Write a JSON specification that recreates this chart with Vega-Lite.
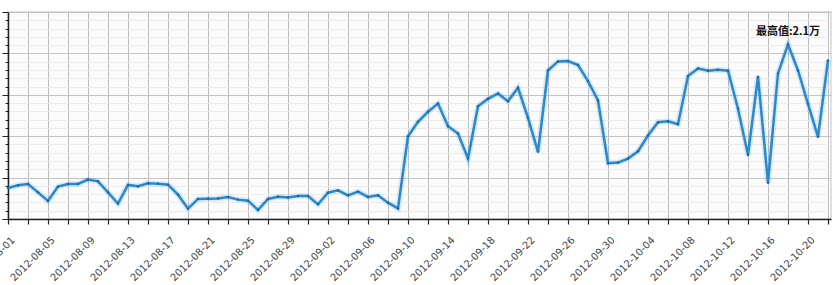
{
  "$schema": "https://vega.github.io/schema/vega-lite/v6.json",
  "autosize": {"type": "none"},
  "padding": {"left": 8, "top": 12, "right": 2, "bottom": 66},
  "width": 823,
  "height": 207,
  "background": "#ffffff",
  "config": {
    "view": {"stroke": "#d8d8d8", "strokeWidth": 1.5, "fill": "#fcfcfc"},
    "axis": {"labelFont": "DejaVu Sans", "labelFontSize": 10, "labelColor": "#444"}
  },
  "data": {
    "values": [
      {"date": "2012-08-01", "v": 3750}, {"date": "2012-08-02", "v": 4070}, {"date": "2012-08-03", "v": 4230},
      {"date": "2012-08-04", "v": 3220}, {"date": "2012-08-05", "v": 2180}, {"date": "2012-08-06", "v": 3910},
      {"date": "2012-08-07", "v": 4230}, {"date": "2012-08-08", "v": 4230}, {"date": "2012-08-09", "v": 4760},
      {"date": "2012-08-10", "v": 4550}, {"date": "2012-08-11", "v": 3220}, {"date": "2012-08-12", "v": 1850},
      {"date": "2012-08-13", "v": 4110}, {"date": "2012-08-14", "v": 3950}, {"date": "2012-08-15", "v": 4310},
      {"date": "2012-08-16", "v": 4270}, {"date": "2012-08-17", "v": 4150}, {"date": "2012-08-18", "v": 2940},
      {"date": "2012-08-19", "v": 1250}, {"date": "2012-08-20", "v": 2420}, {"date": "2012-08-21", "v": 2460},
      {"date": "2012-08-22", "v": 2490}, {"date": "2012-08-23", "v": 2660}, {"date": "2012-08-24", "v": 2340},
      {"date": "2012-08-25", "v": 2210}, {"date": "2012-08-26", "v": 1090}, {"date": "2012-08-27", "v": 2420},
      {"date": "2012-08-28", "v": 2680}, {"date": "2012-08-29", "v": 2610}, {"date": "2012-08-30", "v": 2780},
      {"date": "2012-08-31", "v": 2780}, {"date": "2012-09-01", "v": 1770}, {"date": "2012-09-02", "v": 3180},
      {"date": "2012-09-03", "v": 3460}, {"date": "2012-09-04", "v": 2860}, {"date": "2012-09-05", "v": 3300},
      {"date": "2012-09-06", "v": 2660}, {"date": "2012-09-07", "v": 2860}, {"date": "2012-09-08", "v": 1970},
      {"date": "2012-09-09", "v": 1280}, {"date": "2012-09-10", "v": 10000}, {"date": "2012-09-11", "v": 11740},
      {"date": "2012-09-12", "v": 12950}, {"date": "2012-09-13", "v": 13950}, {"date": "2012-09-14", "v": 11200},
      {"date": "2012-09-15", "v": 10320}, {"date": "2012-09-16", "v": 7300}, {"date": "2012-09-17", "v": 13620},
      {"date": "2012-09-18", "v": 14520}, {"date": "2012-09-19", "v": 15160}, {"date": "2012-09-20", "v": 14230},
      {"date": "2012-09-21", "v": 15850}, {"date": "2012-09-22", "v": 12220}, {"date": "2012-09-23", "v": 8110},
      {"date": "2012-09-24", "v": 17940}, {"date": "2012-09-25", "v": 19030}, {"date": "2012-09-26", "v": 19070},
      {"date": "2012-09-27", "v": 18590}, {"date": "2012-09-28", "v": 16650}, {"date": "2012-09-29", "v": 14310},
      {"date": "2012-09-30", "v": 6730}, {"date": "2012-10-01", "v": 6810}, {"date": "2012-10-02", "v": 7300},
      {"date": "2012-10-03", "v": 8180}, {"date": "2012-10-04", "v": 10080}, {"date": "2012-10-05", "v": 11690},
      {"date": "2012-10-06", "v": 11810}, {"date": "2012-10-07", "v": 11450}, {"date": "2012-10-08", "v": 17260},
      {"date": "2012-10-09", "v": 18190}, {"date": "2012-10-10", "v": 17910}, {"date": "2012-10-11", "v": 18030},
      {"date": "2012-10-12", "v": 17910}, {"date": "2012-10-13", "v": 13310}, {"date": "2012-10-14", "v": 7740},
      {"date": "2012-10-15", "v": 17180}, {"date": "2012-10-16", "v": 4390}, {"date": "2012-10-17", "v": 17580},
      {"date": "2012-10-18", "v": 21090}, {"date": "2012-10-19", "v": 17940}, {"date": "2012-10-20", "v": 13910},
      {"date": "2012-10-21", "v": 9920}, {"date": "2012-10-22", "v": 19150}
    ]
  },
  "encoding": {
    "x": {
      "field": "date", "type": "temporal", "title": null,
      "scale": {"type": "utc", "domain": [1343779200000, 1350889920000], "nice": false},
      "axis": {
        "values": [1343779200000,1343952000000,1344124800000,1344297600000,1344470400000,1344643200000,1344816000000,1344988800000,1345161600000,1345334400000,1345507200000,1345680000000,1345852800000,1346025600000,1346198400000,1346371200000,1346544000000,1346716800000,1346889600000,1347062400000,1347235200000,1347408000000,1347580800000,1347753600000,1347926400000,1348099200000,1348272000000,1348444800000,1348617600000,1348790400000,1348963200000,1349136000000,1349308800000,1349481600000,1349654400000,1349827200000,1350000000000,1350172800000,1350345600000,1350518400000,1350691200000,1350864000000],
        "labelExpr": "round((datum.value - 1343779200000) / 86400000) % 4 == 0 ? utcFormat(datum.value, '%Y-%m-%d') : ''",
        "labelAngle": -45, "labelAlign": "right", "labelBaseline": "middle", "labelPadding": 14, "labelOffset": 5,
        "labelOverlap": false, "labelFlush": false, "labelBound": false,
        "grid": true, "gridColor": "#bdbdbd", "gridWidth": 1,
        "domainColor": "#222", "domainWidth": 1.5, "tickColor": "#222", "tickSize": 5, "tickWidth": 1.2
      }
    },
    "y": {
      "field": "v", "type": "quantitative", "title": null,
      "scale": {"domain": [0, 25000], "nice": false},
      "axis": {
        "values": [0,1000,2000,3000,4000,5000,6000,7000,8000,9000,10000,11000,12000,13000,14000,15000,16000,17000,18000,19000,20000,21000,22000,23000,24000,25000],
        "labels": false, "grid": true,
        "gridColor": {"expr": "datum.value % 5000 == 0 ? '#c4c4c4' : '#ebebeb'"},
        "tickSize": {"expr": "datum.value % 5000 == 0 ? 6 : 3"},
        "domainColor": "#222", "domainWidth": 1.5, "tickColor": "#222", "tickWidth": 1
      }
    }
  },
  "layer": [
    {"mark": {"type": "line", "color": "#2a8ad0", "strokeWidth": 6, "opacity": 0.15}},
    {"mark": {"type": "line", "color": "#2a88cc", "strokeWidth": 2.5}},
    {"mark": {"type": "point", "filled": true, "color": "#1a6aa3", "size": 6, "opacity": 1}},
    {
      "transform": [
        {"joinaggregate": [{"op": "max", "field": "v", "as": "maxv"}]},
        {"filter": "datum.v == datum.maxv"}
      ],
      "mark": {"type": "text", "text": "最高值:2.1万", "font": "Noto Sans CJK SC", "fontWeight": "bold", "fontSize": 11, "color": "#111", "dy": -12}
    }
  ]
}
